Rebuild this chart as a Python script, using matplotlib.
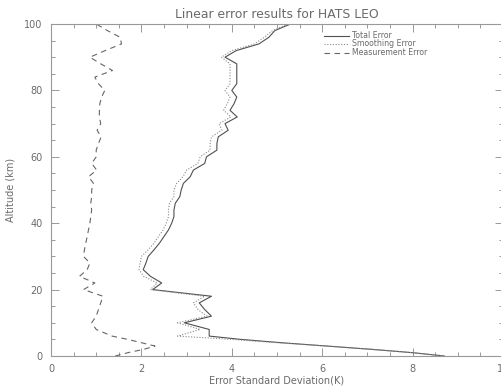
import matplotlib
matplotlib.use("Agg")
import matplotlib.pyplot as plt
from matplotlib.ticker import MultipleLocator

# altitude grid (km)
altitude = [0, 1, 2, 3, 4, 5, 6, 8, 10, 12, 14, 16, 18, 20, 22, 24, 26, 28, 30,
            32, 34, 36, 38, 40, 42, 44, 46, 48, 50, 52, 54, 56, 58, 60, 62, 64,
            66, 68, 70, 72, 74, 76, 78, 80, 82, 84, 86, 88, 90, 92, 94, 96, 98, 100]

total_err = [8.7, 8.0, 7.1, 6.1, 5.1, 4.2, 3.5, 3.5, 2.95, 3.55, 3.4, 3.28, 3.55,
             2.25, 2.45, 2.2, 2.04, 2.1, 2.15, 2.28, 2.4, 2.5, 2.6, 2.67, 2.72,
             2.72, 2.75, 2.85, 2.88, 2.93, 3.08, 3.15, 3.4, 3.44, 3.67, 3.67,
             3.7, 3.92, 3.85, 4.12, 3.96, 4.05, 4.11, 4.0, 4.11, 4.11, 4.11,
             4.11, 3.85, 4.1, 4.6, 4.82, 4.95, 5.3]

smooth_err = [8.7, 8.0, 7.1, 6.1, 5.0, 4.0, 2.8, 3.3, 2.8, 3.45, 3.25, 3.15, 3.4,
              2.2, 2.35, 2.05, 1.95, 1.97, 2.0, 2.15, 2.28, 2.38, 2.48, 2.55,
              2.6, 2.6, 2.62, 2.72, 2.72, 2.78, 2.92, 3.0, 3.25, 3.3, 3.52, 3.52,
              3.55, 3.78, 3.72, 3.98, 3.82, 3.9, 3.96, 3.85, 3.96, 3.96, 3.96,
              3.96, 3.77, 4.0, 4.5, 4.72, 4.9, 5.25]

meas_err = [1.42, 1.7, 2.05, 2.3, 2.0, 1.7, 1.35, 1.0, 0.9, 1.0, 1.05, 1.1, 1.15,
            0.72, 0.97, 0.63, 0.8, 0.86, 0.72, 0.74, 0.77, 0.8, 0.83, 0.86, 0.88,
            0.9, 0.88, 0.9, 0.9, 0.94, 0.83, 1.01, 0.9, 1.0, 1.0, 1.05, 1.11,
            1.02, 1.1, 1.07, 1.07, 1.08, 1.12, 1.19, 1.05, 0.97, 1.36, 1.1, 0.86,
            1.2, 1.56, 1.53, 1.25, 1.0]

grey = "#6a6a6a"
plt.rcParams["font.family"] = "DejaVu Sans"

fig = plt.figure(figsize=(5.02, 3.91), dpi=100)
ax = fig.add_axes([51 / 502, 35 / 391, 452 / 502, 332 / 391])

ax.plot(total_err, altitude, color="#505050", lw=0.8, label="Total Error")
ax.plot(smooth_err, altitude, color="#8a8a8a", lw=0.8, ls=(0, (1, 1.5)),
        label="Smoothing Error")
ax.plot(meas_err, altitude, color="#666666", lw=0.8, ls=(0, (5, 4)),
        label="Measurement Error")

ax.set_xlim(0, 10)
ax.set_ylim(0, 100)
ax.xaxis.set_major_locator(MultipleLocator(2))
ax.xaxis.set_minor_locator(MultipleLocator(0.5))
ax.yaxis.set_major_locator(MultipleLocator(20))
ax.yaxis.set_minor_locator(MultipleLocator(5))
ax.tick_params(which="both", direction="in", top=True, right=True,
               colors="#888888", labelcolor=grey, labelsize=7, width=0.6)
ax.tick_params(which="major", length=6, pad=6)
ax.tick_params(which="minor", length=3)
for sp in ax.spines.values():
    sp.set_color("#999999")
    sp.set_linewidth(0.8)

ax.set_title("Linear error results for HATS LEO", fontsize=8.9, color=grey, pad=4)
ax.set_xlabel("Error Standard Deviation(K)", fontsize=7, color=grey, labelpad=1)
ax.set_ylabel("Altitude (km)", fontsize=7, color=grey, labelpad=6)

ax.legend(loc="upper left", bbox_to_anchor=(320 / 502, 1 - 27 / 391),
          bbox_transform=fig.transFigure, frameon=False, fontsize=5.6,
          handlelength=3.2, handleheight=0.4, handletextpad=0.4,
          labelspacing=-0.05, borderpad=0, labelcolor=grey)

fig.savefig("out.png", dpi=100)
plt.close(fig)
